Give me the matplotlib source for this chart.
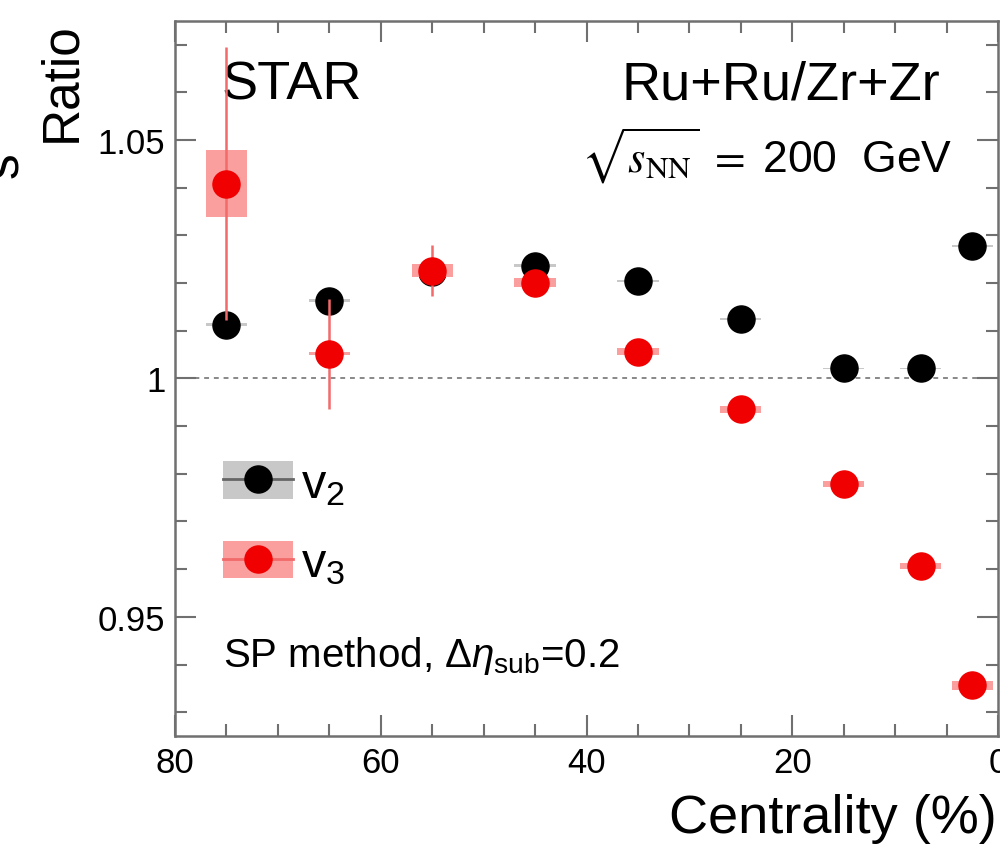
import matplotlib
matplotlib.use("Agg")
import matplotlib.pyplot as plt
from matplotlib.patches import Rectangle
from matplotlib.lines import Line2D
from matplotlib.ticker import MultipleLocator

plt.rcParams['font.family'] = ['Liberation Sans', 'DejaVu Sans']
plt.rcParams['mathtext.fontset'] = 'custom'
plt.rcParams['mathtext.rm'] = 'Liberation Sans'
plt.rcParams['mathtext.it'] = 'Liberation Sans:italic'
plt.rcParams['mathtext.sf'] = 'Liberation Sans'

# ---- data ----
centrality = [75, 65, 55, 45, 35, 25, 15, 7.5, 2.5]
v2_ratio = [1.0113, 1.0163, 1.0224, 1.0237, 1.0205, 1.0124, 1.0021, 1.0021, 1.0277]
v2_stat = [0.0010, 0.0009, 0.0007, 0.0006, 0.0005, 0.0005, 0.0005, 0.0005, 0.0006]
v2_sys = [0.0003, 0.0003, 0.0003, 0.0003, 0.0002, 0.0002, 0.0002, 0.0002, 0.0002]
v3_ratio = [1.0409, 1.0052, 1.0226, 1.0201, 1.0056, 0.9935, 0.9778, 0.9607, 0.9356]
v3_stat = [0.0287, 0.0115, 0.0054, 0.0020, 0.0015, 0.0012, 0.0010, 0.0010, 0.0010]
v3_sys = [0.0070, 0.0003, 0.0014, 0.0010, 0.0007, 0.0007, 0.0006, 0.0006, 0.0010]
bin_halfwidth = 2.0

xticks_major = [80, 60, 40, 20, 0]
yticks_major = [0.95, 1.0, 1.05]
yticklabels = ['0.95', '1', '1.05']

BLACK = '#000000'
RED = '#f00000'
GREY_BOX = '#c8c8c8'
PINK_BOX = '#fb9e9e'
RED_LINE = '#f26a6a'
SPINE = '#707070'

fig = plt.figure(figsize=(10, 8.45), dpi=100)
ax = fig.add_axes([0.175, 0.1278, 0.823, 0.8462])

# v2 (black)
ax.bar(centrality, [2 * s for s in v2_sys], bottom=[v - s for v, s in zip(v2_ratio, v2_sys)],
       width=2 * bin_halfwidth, color=GREY_BOX, zorder=2, linewidth=0)
ax.errorbar(centrality, v2_ratio, yerr=v2_stat, fmt='none', ecolor='#666666', elinewidth=1.5, zorder=3)
ax.plot(centrality, v2_ratio, 'o', color=BLACK, ms=19.5, zorder=4, linestyle='none')

# v3 (red)
ax.bar(centrality, [2 * s for s in v3_sys], bottom=[v - s for v, s in zip(v3_ratio, v3_sys)],
       width=2 * bin_halfwidth, color=PINK_BOX, zorder=5, linewidth=0)
ax.errorbar(centrality, v3_ratio, yerr=v3_stat, fmt='none', ecolor=RED_LINE, elinewidth=1.8, zorder=6)
ax.plot(centrality, v3_ratio, 'o', color=RED, ms=19.5, zorder=7, linestyle='none')

# reference line
ax.axhline(1.0, color='#888888', lw=1.4, ls=(0, (2.5, 2.5)), zorder=1)

ax.set_xlim(80, 0)
ax.set_ylim(0.925, 1.075)
ax.set_xticks(xticks_major)
ax.set_xticklabels([str(t) for t in xticks_major])
ax.xaxis.set_minor_locator(MultipleLocator(5))
ax.set_yticks(yticks_major)
ax.set_yticklabels(yticklabels)
ax.yaxis.set_minor_locator(MultipleLocator(0.01))

ax.tick_params(which='both', direction='in', top=True, right=True, color=SPINE, width=1.5,
               labelsize=25, pad=7)
ax.tick_params(which='major', length=15)
ax.tick_params(which='minor', length=8.5)
for sp in ax.spines.values():
    sp.set_color(SPINE)
    sp.set_linewidth(1.8)

ax.set_xlabel('Centrality (%)', fontsize=39)
ax.xaxis.set_label_coords(0.999, -0.134)
ax.xaxis.label.set_ha('right')
ax.xaxis.label.set_va('baseline')
ax.set_ylabel('Ratio', fontsize=37, loc='top', labelpad=8)

# texts
ax.text(0.057, 0.891, 'STAR', transform=ax.transAxes, fontsize=39, ha='left', va='baseline')
ax.text(0.9295, 0.891, 'Ru+Ru/Zr+Zr', transform=ax.transAxes, fontsize=39, ha='right', va='baseline')
ax.text(0.945, 0.790, r'$\sqrt{s_{\mathrm{NN}}}\ =\ $200  GeV', transform=ax.transAxes,
        fontsize=32, ha='right', va='baseline', math_fontfamily='stix')
ax.text(0.058, 0.098, r'SP method, $\Delta\eta_{\mathrm{sub}}$=0.2', transform=ax.transAxes,
        fontsize=29, ha='left', va='baseline')

# legend
h2 = (Rectangle((0, 0), 1, 1, color=GREY_BOX, lw=0),
      Line2D([], [], color='#666666', lw=2, marker='o', ms=19.5, mfc=BLACK, mec=BLACK))
h3 = (Rectangle((0, 0), 1, 1, color=PINK_BOX, lw=0),
      Line2D([], [], color=RED_LINE, lw=2, marker='o', ms=19.5, mfc=RED, mec=RED))
ax.legend([h2, h3], [r'v$_{\mathrm{2}}$', r'v$_{\mathrm{3}}$'], loc='upper left',
          bbox_to_anchor=(0.058, 0.384), frameon=False, fontsize=35, handlelength=1.45,
          handleheight=0.8, handletextpad=0.15, labelspacing=0.7, borderpad=0, borderaxespad=0)

# partial glyph of neighbouring panel at left edge
fig.text(0.005, 1 - 165 / 845, 's', fontsize=37, rotation=90, ha='center', va='center')

fig.savefig('out.png', dpi=100)
